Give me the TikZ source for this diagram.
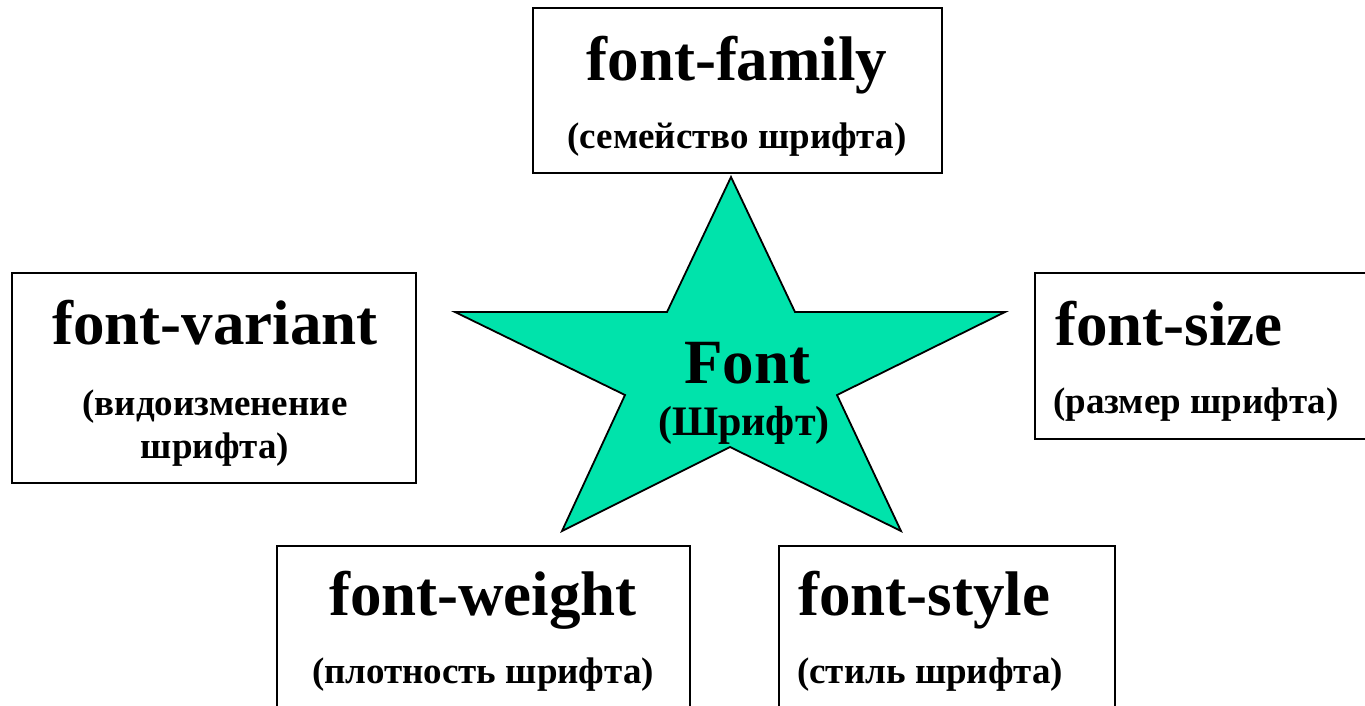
\documentclass[tikz,border=0pt]{standalone}
\usepackage{fontspec}
\setmainfont{Liberation Serif}
\definecolor{starfill}{RGB}{0,227,171}
\tikzset{
  panel/.style={draw=black, line width=1.8pt, fill=white},
  title/.style={font=\bfseries\fontsize{63}{63}\selectfont, inner sep=0pt, anchor=base},
  gloss/.style={font=\bfseries\fontsize{37}{40}\selectfont, inner sep=0pt, anchor=base},
  starshape/.style={draw=black, line width=1.8pt, fill=starfill, line join=miter},
}
\begin{document}
\begin{tikzpicture}[x=1pt,y=-1pt]
\useasboundingbox (0,0) rectangle (1365,705);
\clip (0,0) rectangle (1365,705);
\fill[white] (0,0) rectangle (1365,705);

% property boxes
\draw[panel] (533,8) rectangle (942,173);
\draw[panel] (12,273) rectangle (416,483);
\draw[panel] (1035,273) rectangle (1380,439);
\draw[panel] (277,546) rectangle (690,720);
\draw[panel] (779,546) rectangle (1115,720);

% central star
\draw[starshape] (731,177) -- (795,312) -- (1005,312) -- (837,395) -- (901,531)
  -- (730,447) -- (562,531) -- (625,395) -- (455,312) -- (667,312) -- cycle;

% star labels
\node[title] (font) at (747,383) {Font};
\node[gloss, font=\bfseries\fontsize{42}{42}\selectfont] (shrift) at (744,435) {(Шрифт)};

% font-family
\node[title] (family) at (737,80) {font-family};
\node[gloss] (familyru) at (737,148) {(семейство шрифта)};

% font-variant
\node[title] (variant) at (215,344) {font-variant};
\node[gloss] (variantru1) at (215,415) {(видоизменение};
\node[gloss] (variantru2) at (215,458) {шрифта)};

% font-size
\node[title, anchor=base west] (size) at (1055,345) {font-size};
\node[gloss, anchor=base west] (sizeru) at (1053,413) {(размер шрифта)};

% font-weight
\node[title] (weight) at (483,615) {font-weight};
\node[gloss] (weightru) at (483,683) {(плотность шрифта)};

% font-style
\node[title, anchor=base west] (style) at (798,615) {font-style};
\node[gloss, anchor=base west] (styleru) at (797,683) {(стиль шрифта)};
\end{tikzpicture}
\end{document}
